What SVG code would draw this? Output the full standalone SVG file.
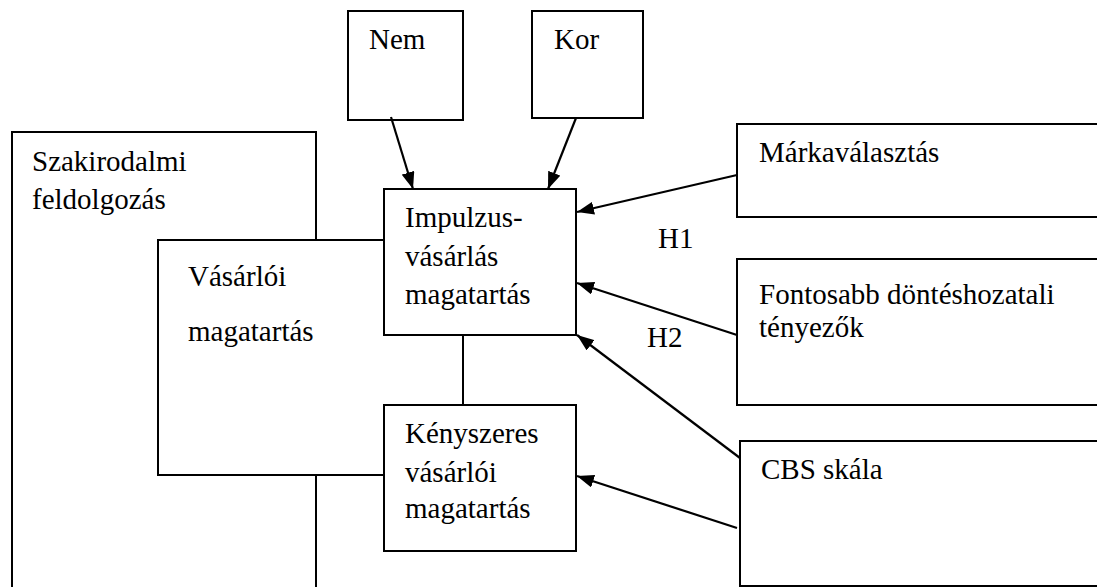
<svg xmlns="http://www.w3.org/2000/svg" width="1097" height="587" viewBox="0 0 1097 587">
<style>
.box{fill:#fff;stroke:#000;stroke-width:2}
.t{font-family:'Liberation Serif','DejaVu Serif',serif;font-size:29px;fill:#000}
.c{stroke:#000;stroke-width:2.2;fill:none}
</style>
<defs>
<marker id="ah" viewBox="0 0 17 13" refX="17" refY="6.5" markerWidth="17" markerHeight="13" markerUnits="userSpaceOnUse" orient="auto">
<path d="M0,0 L17,6.5 L0,13 z" fill="#000"/>
</marker>
</defs>
<rect width="1097" height="587" fill="#fff"/>
<g id="szakirodalmi">
<rect class="box" x="12" y="132" width="304" height="470"/>
<text class="t" x="32" y="171">Szakirodalmi</text>
<text class="t" x="32" y="209">feldolgozás</text>
</g>
<g id="vasarloi">
<rect class="box" x="158" y="240" width="305" height="235"/>
<text class="t" x="188" y="286">Vásárlói</text>
<text class="t" x="188" y="341">magatartás</text>
</g>
<g id="nem">
<rect class="box" x="348" y="11" width="115" height="109"/>
<text class="t" x="369" y="49">Nem</text>
</g>
<g id="kor">
<rect class="box" x="532" y="11" width="111" height="107"/>
<text class="t" x="554" y="49">Kor</text>
</g>
<g id="impulzus">
<rect class="box" x="384" y="189" width="192" height="146"/>
<text class="t" x="405" y="227">Impulzus-</text>
<text class="t" x="405" y="266">vásárlás</text>
<text class="t" x="405" y="304">magatartás</text>
</g>
<g id="kenyszeres">
<rect class="box" x="384" y="405" width="192" height="146"/>
<text class="t" x="405" y="443">Kényszeres</text>
<text class="t" x="405" y="482">vásárlói</text>
<text class="t" x="405" y="518">magatartás</text>
</g>
<g id="markavalasztas">
<rect class="box" x="737" y="124" width="380" height="93"/>
<text class="t" x="759" y="162">Márkaválasztás</text>
</g>
<g id="fontosabb">
<rect class="box" x="737" y="259" width="380" height="146"/>
<text class="t" x="759" y="304">Fontosabb döntéshozatali</text>
<text class="t" x="759" y="337">tényezők</text>
</g>
<g id="cbs">
<rect class="box" x="740" y="441" width="380" height="145"/>
<text class="t" x="761" y="479">CBS skála</text>
</g>
<g id="connectors">
<line class="c" x1="391" y1="117" x2="413" y2="189" marker-end="url(#ah)"/>
<line class="c" x1="576" y1="118" x2="548" y2="189" marker-end="url(#ah)"/>
<line class="c" x1="737" y1="175" x2="577" y2="212" marker-end="url(#ah)"/>
<line class="c" x1="737" y1="335" x2="577" y2="283" marker-end="url(#ah)"/>
<line class="c" x1="740" y1="458" x2="577" y2="335" marker-end="url(#ah)"/>
<line class="c" x1="737" y1="528" x2="577" y2="476" marker-end="url(#ah)"/>
</g>
<g id="labels">
<text class="t" x="658" y="248">H1</text>
<text class="t" x="647" y="347">H2</text>
</g>
</svg>
